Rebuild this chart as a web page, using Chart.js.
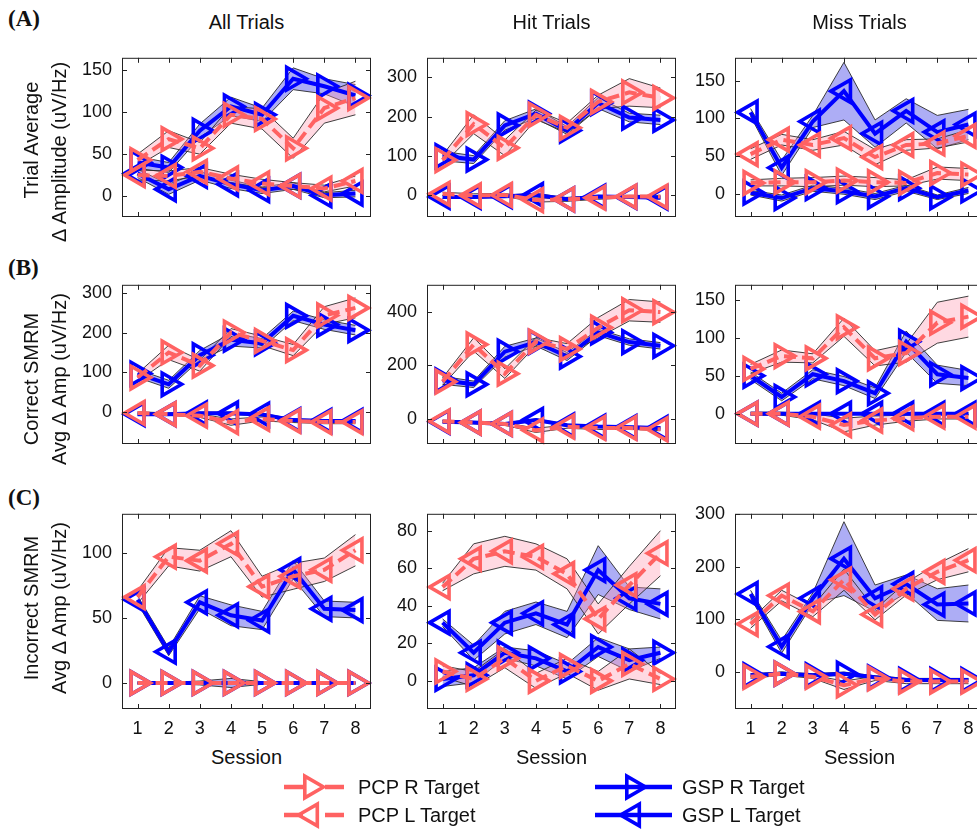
<!DOCTYPE html>
<html>
<head>
<meta charset="utf-8">
<script src="https://cdn.jsdelivr.net/npm/chart.js@4.4.1/dist/chart.umd.min.js"></script>
<style>
  html, body { margin: 0; padding: 0; }
  body { width: 977px; height: 829px; overflow: hidden; background: #fff; position: relative;
         font-family: "Liberation Sans", Arial, Helvetica, sans-serif; color: #111; }
  canvas { position: absolute; }
  .t { position: absolute; white-space: nowrap; font-size: 20px; line-height: 1; }
  .ctr { transform: translate(-50%, -50%); }
  .letter { position: absolute; font-family: "Liberation Serif", "Times New Roman", serif; font-weight: bold; font-size: 23px; }
  .ylab { position: absolute; transform: translate(-50%, -50%) rotate(-90deg); text-align: center;
          font-size: 20px; line-height: 28px; white-space: nowrap; }
  .ylab span { display: block; }
  svg { position: absolute; overflow: visible; }
</style>
</head>
<body>
<div id="root"></div>
<script>
// Sessions on the x axis
const sessions = [1, 2, 3, 4, 5, 6, 7, 8];

// ---- Row A: trial average change in amplitude (uV/Hz), mean and SEM ----
const avgAll_pcpR = [43, 68, 57, 97, 92, 57, 105, 117];
const avgAll_pcpR_sem = [7, 10, 7, 10, 12, 12, 18, 20];
const avgAll_pcpL = [25, 24, 29, 21, 15, 12, 9, 18];
const avgAll_pcpL_sem = [6, 6, 5, 5, 5, 4, 4, 6];
const avgAll_gspR = [40, 34, 78, 107, 97, 140, 131, 120];
const avgAll_gspR_sem = [7, 6, 8, 11, 8, 13, 9, 13];
const avgAll_gspL = [27, 8, 24, 14, 7, 12, 1, 3];
const avgAll_gspL_sem = [5, 6, 5, 5, 4, 4, 3, 4];

const avgHit_pcpR = [90, 181, 121, 205, 172, 238, 262, 248];
const avgHit_pcpR_sem = [12, 24, 20, 12, 12, 17, 35, 25];
const avgHit_pcpL = [4, 0, 1, -12, -10, -6, -3, -3];
const avgHit_pcpL_sem = [4, 4, 4, 5, 5, 4, 3, 3];
const avgHit_gspR = [100, 91, 178, 208, 165, 235, 198, 192];
const avgHit_gspR_sem = [12, 10, 12, 12, 10, 14, 11, 12];
const avgHit_gspL = [-4, -4, -2, 1, -10, -3, -4, -6];
const avgHit_gspL_sem = [4, 3, 3, 4, 4, 3, 3, 3];

const avgMiss_pcpR = [15, 16, 16, 18, 16, 15, 28, 26];
const avgMiss_pcpR_sem = [4, 5, 6, 6, 6, 4, 8, 8];
const avgMiss_pcpL = [53, 72, 65, 74, 49, 65, 67, 77];
const avgMiss_pcpL_sem = [7, 7, 7, 9, 10, 7, 6, 8];
const avgMiss_gspR = [2, -5, 8, 4, -3, 8, -4, 5];
const avgMiss_gspR_sem = [3, 4, 4, 4, 4, 4, 3, 4];
const avgMiss_gspL = [108, 35, 96, 136, 80, 110, 82, 92];
const avgMiss_gspL_sem = [5, 10, 8, 38, 18, 16, 22, 20];

// ---- Row B: correct SMRM, average change in amplitude ----
const corAll_pcpR = [87, 150, 117, 200, 179, 156, 243, 262];
const corAll_pcpR_sem = [10, 18, 14, 10, 12, 14, 22, 25];
const corAll_pcpL = [-2, -5, -9, -25, -17, -22, -25, -25];
const corAll_pcpL_sem = [3, 3, 4, 8, 5, 4, 4, 4];
const corAll_gspR = [97, 70, 143, 182, 173, 242, 220, 206];
const corAll_gspR_sem = [10, 10, 12, 16, 12, 12, 12, 12];
const corAll_gspL = [-5, -5, -3, -3, -6, -20, -22, -22];
const corAll_gspL_sem = [3, 3, 3, 3, 3, 3, 3, 3];

const corHit_pcpR = [138, 277, 168, 288, 260, 340, 405, 398];
const corHit_pcpR_sem = [14, 25, 18, 15, 20, 38, 40, 38];
const corHit_pcpL = [-10, -15, -20, -44, -30, -35, -35, -40];
const corHit_pcpL_sem = [4, 4, 5, 8, 6, 6, 5, 5];
const corHit_gspR = [143, 128, 250, 286, 232, 322, 286, 272];
const corHit_gspR_sem = [15, 12, 20, 15, 15, 12, 12, 12];
const corHit_gspL = [-12, -15, -20, -5, -25, -30, -32, -35];
const corHit_gspL_sem = [4, 4, 4, 4, 4, 4, 4, 4];

const corMiss_pcpR = [59, 76, 73, 114, 73, 80, 120, 128];
const corMiss_pcpR_sem = [6, 8, 6, 12, 10, 12, 27, 27];
const corMiss_pcpL = [0, 0, -4, -15, -9, -6, -4, -4];
const corMiss_pcpL_sem = [2, 2, 4, 9, 6, 4, 3, 3];
const corMiss_gspR = [50, 22, 52, 43, 27, 95, 52, 47];
const corMiss_gspR_sem = [5, 5, 6, 6, 7, 14, 12, 10];
const corMiss_gspL = [0, 0, 0, 0, 0, 0, 0, 0];
const corMiss_gspL_sem = [1, 1, 1, 1, 1, 1, 1, 1];

// ---- Row C: incorrect SMRM, average change in amplitude ----
const incAll_pcpR = [0, 0, 0, 0, 0, 0, 0, 0];
const incAll_pcpR_sem = [0.5, 0.5, 0.5, 0.5, 0.5, 0.5, 0.5, 0.5];
const incAll_pcpL = [66, 97, 94, 107, 74, 82, 87, 102];
const incAll_pcpL_sem = [5, 7, 8, 10, 8, 10, 9, 12];
const incAll_gspR = [0, 0, 0, 0, 0, 0, 0, 0];
const incAll_gspR_sem = [0.5, 0.5, 1.5, 3.5, 1, 0.5, 0.5, 0.5];
const incAll_gspL = [64, 24, 62, 52, 48, 87, 57, 56];
const incAll_gspL_sem = [3, 3, 5, 8, 7, 7, 6, 6];

const incHit_pcpR = [5, 1, 12, 0, 8, 0, 9, 1];
const incHit_pcpR_sem = [3, 4, 5, 4, 4, 5, 8, 3];
const incHit_pcpL = [50, 65, 69, 66, 57, 33, 51, 68];
const incHit_pcpL_sem = [2, 8, 8, 7, 8, 8, 10, 12];
const incHit_gspR = [1, 3, 15, 12, 5, 18, 11, 15];
const incHit_gspR_sem = [4, 4, 3, 4, 4, 5, 6, 3];
const incHit_gspL = [31, 15, 31, 36, 30, 59, 44, 41];
const incHit_gspL_sem = [2, 4, 6, 6, 7, 13, 6, 8];

const incMiss_pcpR = [-9, -3, -9, -25, -12, -18, -18, -18];
const incMiss_pcpR_sem = [3, 3, 3, 8, 4, 4, 4, 4];
const incMiss_pcpL = [91, 145, 115, 175, 109, 158, 190, 212];
const incMiss_pcpL_sem = [8, 10, 10, 20, 10, 12, 15, 22];
const incMiss_gspR = [-6, -3, -6, -3, -10, -15, -15, -15];
const incMiss_gspR_sem = [3, 3, 3, 3, 3, 3, 3, 3];
const incMiss_gspL = [148, 48, 140, 215, 140, 167, 128, 130];
const incMiss_gspL_sem = [7, 12, 10, 70, 25, 17, 30, 35];

// ---- y tick labels and axis limits per panel ----
const avgAllTicks = [0, 50, 100, 150],       avgAllRange = [-25, 165];
const avgHitTicks = [0, 100, 200, 300],      avgHitRange = [-55, 350];
const avgMissTicks = [0, 50, 100, 150],      avgMissRange = [-30, 180];
const corAllTicks = [0, 100, 200, 300],      corAllRange = [-80, 320];
const corHitTicks = [0, 200, 400],           corHitRange = [-95, 500];
const corMissTicks = [0, 50, 100, 150],      corMissRange = [-40, 170];
const incAllTicks = [0, 50, 100],            incAllRange = [-20, 130];
const incHitTicks = [0, 20, 40, 60, 80],     incHitRange = [-15, 89];
const incMissTicks = [0, 100, 200, 300],     incMissRange = [-70, 300];

// ---- text ----
const columnTitles = ['All Trials', 'Hit Trials', 'Miss Trials'];
const rowLetters = ['(A)', '(B)', '(C)'];
const rowLabels = [
  ['Trial Average', 'Δ Amplitude (uV/Hz)'],
  ['Correct SMRM', 'Avg Δ Amp (uV/Hz)'],
  ['Incorrect SMRM', 'Avg Δ Amp (uV/Hz)']
];
const xTitle = 'Session';
const seriesNames = ['PCP R Target', 'PCP L Target', 'GSP R Target', 'GSP L Target'];

// ---- styling ----
const RED = '#FF6262', BLUE = '#0000FF';
const PINK_FILL = 'rgba(255, 150, 175, 0.36)';
const BLUE_FILL = 'rgba(40, 40, 230, 0.38)';
const EDGE = '#2a2a2a';
const FONT = '"Liberation Sans", Arial, Helvetica, sans-serif';
const seriesStyle = {
  pcpR: { color: RED,  fill: PINK_FILL, rot: 90,  dash: [12, 6], order: 1 },
  pcpL: { color: RED,  fill: PINK_FILL, rot: 270, dash: [12, 6], order: 1 },
  gspR: { color: BLUE, fill: BLUE_FILL, rot: 90,  dash: [],      order: 2 },
  gspL: { color: BLUE, fill: BLUE_FILL, rot: 270, dash: [],      order: 2 }
};

// ---- grid geometry ----
const colLeft = [122, 427, 735];
const rowTop = [51, 278, 507];
const PW = 249, PH = 202;
const PAD_L = 58, PAD_T = 14, PAD_R = 14, PAD_B = 10, XAX_H = 36;

const panels = [
  { r: 0, c: 0, ticks: avgAllTicks, range: avgAllRange, s: {
    pcpR: [avgAll_pcpR, avgAll_pcpR_sem], pcpL: [avgAll_pcpL, avgAll_pcpL_sem],
    gspR: [avgAll_gspR, avgAll_gspR_sem], gspL: [avgAll_gspL, avgAll_gspL_sem] } },
  { r: 0, c: 1, ticks: avgHitTicks, range: avgHitRange, s: {
    pcpR: [avgHit_pcpR, avgHit_pcpR_sem], pcpL: [avgHit_pcpL, avgHit_pcpL_sem],
    gspR: [avgHit_gspR, avgHit_gspR_sem], gspL: [avgHit_gspL, avgHit_gspL_sem] } },
  { r: 0, c: 2, ticks: avgMissTicks, range: avgMissRange, s: {
    pcpR: [avgMiss_pcpR, avgMiss_pcpR_sem], pcpL: [avgMiss_pcpL, avgMiss_pcpL_sem],
    gspR: [avgMiss_gspR, avgMiss_gspR_sem], gspL: [avgMiss_gspL, avgMiss_gspL_sem] } },
  { r: 1, c: 0, ticks: corAllTicks, range: corAllRange, s: {
    pcpR: [corAll_pcpR, corAll_pcpR_sem], pcpL: [corAll_pcpL, corAll_pcpL_sem],
    gspR: [corAll_gspR, corAll_gspR_sem], gspL: [corAll_gspL, corAll_gspL_sem] } },
  { r: 1, c: 1, ticks: corHitTicks, range: corHitRange, s: {
    pcpR: [corHit_pcpR, corHit_pcpR_sem], pcpL: [corHit_pcpL, corHit_pcpL_sem],
    gspR: [corHit_gspR, corHit_gspR_sem], gspL: [corHit_gspL, corHit_gspL_sem] } },
  { r: 1, c: 2, ticks: corMissTicks, range: corMissRange, s: {
    pcpR: [corMiss_pcpR, corMiss_pcpR_sem], pcpL: [corMiss_pcpL, corMiss_pcpL_sem],
    gspR: [corMiss_gspR, corMiss_gspR_sem], gspL: [corMiss_gspL, corMiss_gspL_sem] } },
  { r: 2, c: 0, ticks: incAllTicks, range: incAllRange, s: {
    pcpR: [incAll_pcpR, incAll_pcpR_sem], pcpL: [incAll_pcpL, incAll_pcpL_sem],
    gspR: [incAll_gspR, incAll_gspR_sem], gspL: [incAll_gspL, incAll_gspL_sem] } },
  { r: 2, c: 1, ticks: incHitTicks, range: incHitRange, s: {
    pcpR: [incHit_pcpR, incHit_pcpR_sem], pcpL: [incHit_pcpL, incHit_pcpL_sem],
    gspR: [incHit_gspR, incHit_gspR_sem], gspL: [incHit_gspL, incHit_gspL_sem] } },
  { r: 2, c: 2, ticks: incMissTicks, range: incMissRange, s: {
    pcpR: [incMiss_pcpR, incMiss_pcpR_sem], pcpL: [incMiss_pcpL, incMiss_pcpL_sem],
    gspR: [incMiss_gspR, incMiss_gspR_sem], gspL: [incMiss_gspL, incMiss_gspL_sem] } }
];

// Box around each axes with inward tick marks on all four sides
const framePlugin = {
  id: 'frame',
  afterDatasetsDraw(chart) {
    const { ctx, chartArea: a, scales: { x, y } } = chart;
    const L = 5;
    ctx.save();
    ctx.strokeStyle = '#222';
    ctx.lineWidth = 1;
    ctx.setLineDash([]);
    ctx.strokeRect(a.left + 0.5, a.top + 0.5, a.right - a.left - 1, a.bottom - a.top - 1);
    ctx.beginPath();
    x.ticks.forEach(t => {
      const px = Math.round(x.getPixelForValue(t.value)) + 0.5;
      ctx.moveTo(px, a.top); ctx.lineTo(px, a.top + L);
      ctx.moveTo(px, a.bottom); ctx.lineTo(px, a.bottom - L);
    });
    y.ticks.forEach(t => {
      const py = Math.round(y.getPixelForValue(t.value)) + 0.5;
      ctx.moveTo(a.left, py); ctx.lineTo(a.left + L, py);
      ctx.moveTo(a.right, py); ctx.lineTo(a.right - L, py);
    });
    ctx.stroke();
    ctx.restore();
  }
};

function pts(vals) { return vals.map((v, i) => ({ x: sessions[i], y: v })); }

function buildDatasets(series) {
  const bands = [], lines = [];
  ['pcpR', 'pcpL', 'gspR', 'gspL'].forEach(key => {
    const [mean, sem] = series[key];
    const st = seriesStyle[key];
    bands.push({
      data: pts(mean.map((m, i) => m - sem[i])),
      borderColor: EDGE, borderWidth: 0.9, pointRadius: 0, fill: false, order: 10, clip: false
    });
    bands.push({
      data: pts(mean.map((m, i) => m + sem[i])),
      borderColor: EDGE, borderWidth: 0.9, pointRadius: 0, fill: '-1',
      backgroundColor: st.fill, order: 10, clip: false
    });
    lines.push({
      data: pts(mean),
      borderColor: st.color, borderWidth: 4, borderDash: st.dash,
      pointStyle: 'triangle', pointRotation: st.rot, pointRadius: 13,
      pointBorderWidth: 3.6, pointBorderColor: st.color,
      pointBackgroundColor: 'rgba(0,0,0,0)', fill: false, order: st.order, clip: false
    });
  });
  return bands.concat(lines);
}

const root = document.getElementById('root');
Chart.defaults.font.family = FONT;

panels.forEach(p => {
  const bottomRow = p.r === 2;
  const W = PAD_L + PW + PAD_R;
  const H = PAD_T + PH + (bottomRow ? XAX_H : PAD_B);
  const cv = document.createElement('canvas');
  cv.width = W; cv.height = H;
  cv.style.left = (colLeft[p.c] - PAD_L) + 'px';
  cv.style.top = (rowTop[p.r] - PAD_T) + 'px';
  cv.style.width = W + 'px'; cv.style.height = H + 'px';
  root.appendChild(cv);

  new Chart(cv, {
    type: 'line',
    data: { datasets: buildDatasets(p.s) },
    options: {
      responsive: false, animation: false, devicePixelRatio: 1,
      layout: { autoPadding: false, padding: { left: 0, top: PAD_T, right: PAD_R, bottom: bottomRow ? 0 : PAD_B } },
      plugins: { legend: { display: false }, tooltip: { enabled: false } },
      elements: { line: { tension: 0 } },
      scales: {
        x: {
          type: 'linear', min: 0.5, max: 8.5, display: bottomRow,
          afterBuildTicks: s => { s.ticks = sessions.map(v => ({ value: v })); },
          afterFit: s => { s.height = XAX_H; },
          grid: { display: false, drawTicks: false }, border: { display: false },
          ticks: { color: '#111', font: { size: 18 }, padding: 9, maxRotation: 0, autoSkip: false }
        },
        y: {
          type: 'linear', min: p.range[0], max: p.range[1],
          afterBuildTicks: s => { s.ticks = p.ticks.map(v => ({ value: v })); },
          afterFit: s => { s.width = PAD_L; },
          grid: { display: false, drawTicks: false }, border: { display: false },
          ticks: { color: '#111', font: { size: 18 }, padding: 10, autoSkip: false }
        }
      }
    },
    plugins: [framePlugin]
  });
});

// ---- titles, labels, letters ----
function addText(cls, txt, x, y, extra) {
  const d = document.createElement('div');
  d.className = cls;
  d.textContent = txt;
  d.style.left = x + 'px'; d.style.top = y + 'px';
  if (extra) Object.assign(d.style, extra);
  document.body.appendChild(d);
  return d;
}
columnTitles.forEach((t, c) => addText('t ctr', t, colLeft[c] + PW / 2, 22));
rowLetters.forEach((t, r) => addText('letter', t, 8, [6, 255, 485][r]));
const firstLineShift = [12, 0, 0];
rowLabels.forEach((lines, r) => {
  const d = document.createElement('div');
  d.className = 'ylab';
  lines.forEach((txt, k) => {
    const s = document.createElement('span');
    s.textContent = txt;
    if (k === 0 && firstLineShift[r]) s.style.transform = 'translateX(' + firstLineShift[r] + 'px)';
    d.appendChild(s);
  });
  d.style.left = '45px';
  d.style.top = (rowTop[r] + PH / 2) + 'px';
  document.body.appendChild(d);
});
colLeft.forEach(l => addText('t ctr', xTitle, l + PW / 2, 757));

// ---- legend ----
const legendItems = [
  { name: seriesNames[0], key: 'pcpR', x0: 284, x1: 347, tx: 311, text: 358, y: 787 },
  { name: seriesNames[1], key: 'pcpL', x0: 284, x1: 347, tx: 311, text: 358, y: 815 },
  { name: seriesNames[2], key: 'gspR', x0: 595, x1: 672, tx: 633, text: 682, y: 787 },
  { name: seriesNames[3], key: 'gspL', x0: 595, x1: 672, tx: 633, text: 682, y: 815 }
];
const NS = 'http://www.w3.org/2000/svg';
legendItems.forEach(it => {
  const st = seriesStyle[it.key];
  const svg = document.createElementNS(NS, 'svg');
  svg.setAttribute('width', 977); svg.setAttribute('height', 829);
  svg.style.left = '0px'; svg.style.top = '0px';
  const ln = document.createElementNS(NS, 'line');
  ln.setAttribute('x1', it.x0); ln.setAttribute('x2', it.x1);
  ln.setAttribute('y1', it.y); ln.setAttribute('y2', it.y);
  ln.setAttribute('stroke', st.color); ln.setAttribute('stroke-width', 4.5);
  if (st.dash.length) ln.setAttribute('stroke-dasharray', '19 22');
  svg.appendChild(ln);
  const r = 12.5, right = st.rot === 90;
  const pts3 = [];
  for (let k = 0; k < 3; k++) {
    const ang = (right ? 0 : Math.PI) + k * 2 * Math.PI / 3;
    pts3.push((it.tx + r * Math.cos(ang)).toFixed(1) + ',' + (it.y + r * Math.sin(ang)).toFixed(1));
  }
  const tri = document.createElementNS(NS, 'polygon');
  tri.setAttribute('points', pts3.join(' '));
  tri.setAttribute('fill', 'none'); tri.setAttribute('stroke', st.color); tri.setAttribute('stroke-width', 3.6);
  svg.appendChild(tri);
  document.body.appendChild(svg);
  addText('t', it.name, it.text, it.y - 10);
});
</script>
</body>
</html>
